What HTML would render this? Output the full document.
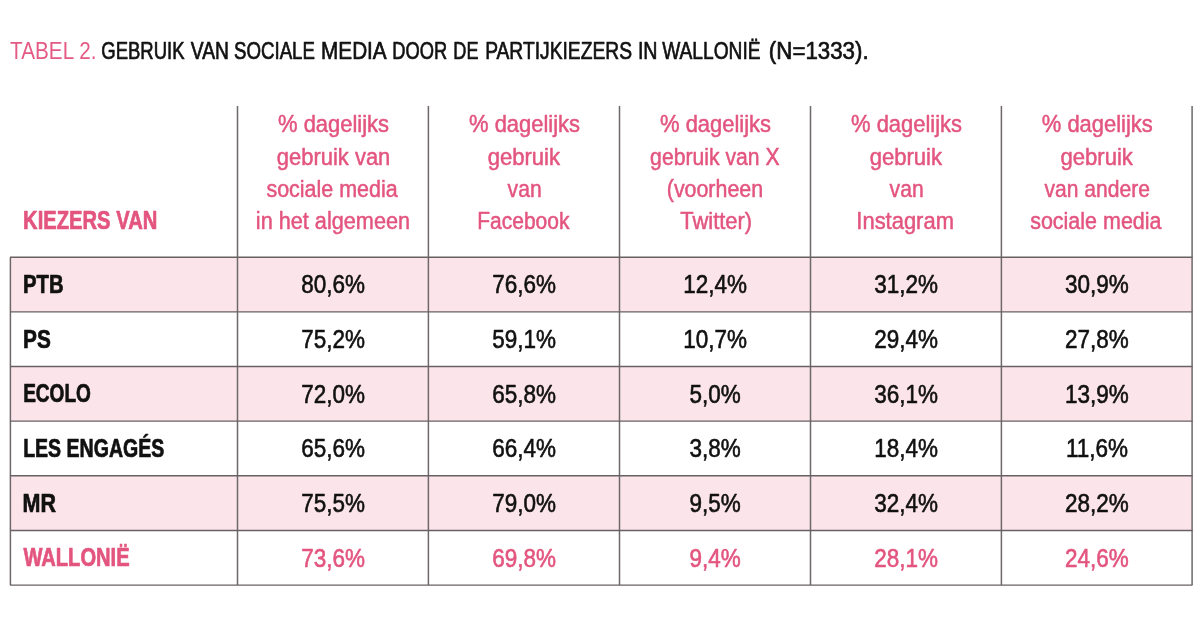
<!DOCTYPE html>
<html lang="nl">
<head>
<meta charset="utf-8">
<title>Tabel 2</title>
<style>
html,body{margin:0;padding:0;background:#fff;}
body{width:1200px;height:637px;overflow:hidden;}
svg{display:block;will-change:transform;font-family:"Liberation Sans",sans-serif;}
text{white-space:pre;stroke-linejoin:round;}
</style>
</head>
<body>
<svg width="1200" height="637" viewBox="0 0 1200 637">
<rect width="1200" height="637" fill="#ffffff"/>
<!-- striped row backgrounds -->
<rect x="10.4" y="257.20" width="1181.70" height="54.65" fill="#fce5ea"/>
<rect x="10.4" y="366.50" width="1181.70" height="54.65" fill="#fce5ea"/>
<rect x="10.4" y="475.80" width="1181.70" height="54.65" fill="#fce5ea"/>
<!-- grid lines -->
<g stroke="#6e686b" stroke-width="1.5" fill="none">
<line x1="10.4" y1="257.20" x2="10.4" y2="585.10"/>
<line x1="237.5" y1="106.0" x2="237.5" y2="585.10"/>
<line x1="428.4" y1="106.0" x2="428.4" y2="585.10"/>
<line x1="619.5" y1="106.0" x2="619.5" y2="585.10"/>
<line x1="810.5" y1="106.0" x2="810.5" y2="585.10"/>
<line x1="1001.4" y1="106.0" x2="1001.4" y2="585.10"/>
<line x1="1192.1" y1="106.0" x2="1192.1" y2="585.10"/>
</g>
<g stroke="#676164" stroke-width="1.4" fill="none">
<line x1="10.00" y1="257.20" x2="1192.50" y2="257.20"/>
<line x1="10.00" y1="311.85" x2="1192.50" y2="311.85"/>
<line x1="10.00" y1="366.50" x2="1192.50" y2="366.50"/>
<line x1="10.00" y1="421.15" x2="1192.50" y2="421.15"/>
<line x1="10.00" y1="475.80" x2="1192.50" y2="475.80"/>
<line x1="10.00" y1="530.45" x2="1192.50" y2="530.45"/>
<line x1="10.00" y1="585.10" x2="1192.50" y2="585.10"/>
</g>
<!-- title -->
<g>
<text transform="translate(10.08,58.60) scale(0.8421,1)" fill="#e45a84" font-weight="400" font-size="24.6">TABEL 2.</text>
<text transform="translate(101.25,58.60) scale(0.7526,1)" fill="#111111" stroke="#111111" stroke-width="0.7" font-weight="400" font-size="24.6">GEBRUIK</text>
<text transform="translate(190.80,58.60) scale(0.7831,1)" fill="#111111" stroke="#111111" stroke-width="0.7" font-weight="400" font-size="24.6">VAN</text>
<text transform="translate(234.03,58.60) scale(0.7591,1)" fill="#111111" stroke="#111111" stroke-width="0.7" font-weight="400" font-size="24.6">SOCIALE</text>
<text transform="translate(321.02,58.60) scale(0.8431,1)" fill="#111111" stroke="#111111" stroke-width="0.7" font-weight="400" font-size="24.6">MEDIA</text>
<text transform="translate(392.30,58.60) scale(0.7439,1)" fill="#111111" stroke="#111111" stroke-width="0.7" font-weight="400" font-size="24.6">DOOR</text>
<text transform="translate(453.31,58.60) scale(0.7370,1)" fill="#111111" stroke="#111111" stroke-width="0.7" font-weight="400" font-size="24.6">DE</text>
<text transform="translate(485.13,58.60) scale(0.7827,1)" fill="#111111" stroke="#111111" stroke-width="0.7" font-weight="400" font-size="24.6">PARTIJKIEZERS</text>
<text transform="translate(637.90,58.60) scale(0.8000,1)" fill="#111111" stroke="#111111" stroke-width="0.7" font-weight="400" font-size="24.6">IN</text>
<text transform="translate(662.19,58.60) scale(0.7793,1)" fill="#111111" stroke="#111111" stroke-width="0.7" font-weight="400" font-size="24.6">WALLONIË</text>
<text transform="translate(768.87,58.60) scale(0.9065,1)" fill="#111111" stroke="#111111" stroke-width="0.7" font-weight="400" font-size="24.6">(N=1333).</text>
</g>
<!-- header -->
<g>
<text transform="translate(23.10,229.20) scale(0.8012,1)" fill="#e3557f" stroke="#e3557f" stroke-width="0.7" font-weight="700" font-size="25.2">KIEZERS VAN</text>
<text transform="translate(278.03,132.30) scale(0.9342,1)" fill="#e3557f" stroke="#e3557f" stroke-width="0.5" font-weight="400" font-size="23.5">% dagelijks</text>
<text transform="translate(276.80,164.60) scale(0.9347,1)" fill="#e3557f" stroke="#e3557f" stroke-width="0.5" font-weight="400" font-size="23.5">gebruik van</text>
<text transform="translate(266.39,196.70) scale(0.9143,1)" fill="#e3557f" stroke="#e3557f" stroke-width="0.5" font-weight="400" font-size="23.5">sociale media</text>
<text transform="translate(255.85,228.90) scale(0.9226,1)" fill="#e3557f" stroke="#e3557f" stroke-width="0.5" font-weight="400" font-size="23.5">in het algemeen</text>
<text transform="translate(469.03,132.30) scale(0.9342,1)" fill="#e3557f" stroke="#e3557f" stroke-width="0.5" font-weight="400" font-size="23.5">% dagelijks</text>
<text transform="translate(487.65,164.60) scale(0.9399,1)" fill="#e3557f" stroke="#e3557f" stroke-width="0.5" font-weight="400" font-size="23.5">gebruik</text>
<text transform="translate(507.62,196.70) scale(0.8980,1)" fill="#e3557f" stroke="#e3557f" stroke-width="0.5" font-weight="400" font-size="23.5">van</text>
<text transform="translate(477.24,228.90) scale(0.8934,1)" fill="#e3557f" stroke="#e3557f" stroke-width="0.5" font-weight="400" font-size="23.5">Facebook</text>
<text transform="translate(660.08,132.30) scale(0.9342,1)" fill="#e3557f" stroke="#e3557f" stroke-width="0.5" font-weight="400" font-size="23.5">% dagelijks</text>
<text transform="translate(650.12,164.60) scale(0.9009,1)" fill="#e3557f" stroke="#e3557f" stroke-width="0.5" font-weight="400" font-size="23.5">gebruik van X</text>
<text transform="translate(666.76,196.70) scale(0.9104,1)" fill="#e3557f" stroke="#e3557f" stroke-width="0.5" font-weight="400" font-size="23.5">(voorheen</text>
<text transform="translate(680.27,228.90) scale(0.9325,1)" fill="#e3557f" stroke="#e3557f" stroke-width="0.5" font-weight="400" font-size="23.5">Twitter)</text>
<text transform="translate(851.03,132.30) scale(0.9342,1)" fill="#e3557f" stroke="#e3557f" stroke-width="0.5" font-weight="400" font-size="23.5">% dagelijks</text>
<text transform="translate(869.65,164.60) scale(0.9399,1)" fill="#e3557f" stroke="#e3557f" stroke-width="0.5" font-weight="400" font-size="23.5">gebruik</text>
<text transform="translate(889.62,196.70) scale(0.8980,1)" fill="#e3557f" stroke="#e3557f" stroke-width="0.5" font-weight="400" font-size="23.5">van</text>
<text transform="translate(856.33,228.90) scale(0.9343,1)" fill="#e3557f" stroke="#e3557f" stroke-width="0.5" font-weight="400" font-size="23.5">Instagram</text>
<text transform="translate(1041.83,132.30) scale(0.9342,1)" fill="#e3557f" stroke="#e3557f" stroke-width="0.5" font-weight="400" font-size="23.5">% dagelijks</text>
<text transform="translate(1060.45,164.60) scale(0.9399,1)" fill="#e3557f" stroke="#e3557f" stroke-width="0.5" font-weight="400" font-size="23.5">gebruik</text>
<text transform="translate(1044.52,196.70) scale(0.8966,1)" fill="#e3557f" stroke="#e3557f" stroke-width="0.5" font-weight="400" font-size="23.5">van andere</text>
<text transform="translate(1030.19,228.90) scale(0.9143,1)" fill="#e3557f" stroke="#e3557f" stroke-width="0.5" font-weight="400" font-size="23.5">sociale media</text>
</g>
<!-- body rows -->
<g>
<text transform="translate(22.99,292.95) scale(0.8041,1)" fill="#111111" stroke="#111111" stroke-width="0.7" font-weight="700" font-size="25.2">PTB</text>
<text transform="translate(301.27,293.35) scale(0.8993,1)" fill="#111111" stroke="#111111" stroke-width="0.6" font-weight="400" font-size="25.0">80,6%</text>
<text transform="translate(492.27,293.35) scale(0.8993,1)" fill="#111111" stroke="#111111" stroke-width="0.6" font-weight="400" font-size="25.0">76,6%</text>
<text transform="translate(683.32,293.35) scale(0.8993,1)" fill="#111111" stroke="#111111" stroke-width="0.6" font-weight="400" font-size="25.0">12,4%</text>
<text transform="translate(874.27,293.35) scale(0.8993,1)" fill="#111111" stroke="#111111" stroke-width="0.6" font-weight="400" font-size="25.0">31,2%</text>
<text transform="translate(1065.07,293.35) scale(0.8993,1)" fill="#111111" stroke="#111111" stroke-width="0.6" font-weight="400" font-size="25.0">30,9%</text>
</g>
<g>
<text transform="translate(23.07,347.60) scale(0.8252,1)" fill="#111111" stroke="#111111" stroke-width="0.7" font-weight="700" font-size="25.2">PS</text>
<text transform="translate(301.27,348.00) scale(0.8993,1)" fill="#111111" stroke="#111111" stroke-width="0.6" font-weight="400" font-size="25.0">75,2%</text>
<text transform="translate(492.27,348.00) scale(0.8993,1)" fill="#111111" stroke="#111111" stroke-width="0.6" font-weight="400" font-size="25.0">59,1%</text>
<text transform="translate(683.32,348.00) scale(0.8993,1)" fill="#111111" stroke="#111111" stroke-width="0.6" font-weight="400" font-size="25.0">10,7%</text>
<text transform="translate(874.27,348.00) scale(0.8993,1)" fill="#111111" stroke="#111111" stroke-width="0.6" font-weight="400" font-size="25.0">29,4%</text>
<text transform="translate(1065.07,348.00) scale(0.8993,1)" fill="#111111" stroke="#111111" stroke-width="0.6" font-weight="400" font-size="25.0">27,8%</text>
</g>
<g>
<text transform="translate(23.15,402.25) scale(0.7566,1)" fill="#111111" stroke="#111111" stroke-width="0.7" font-weight="700" font-size="25.2">ECOLO</text>
<text transform="translate(301.27,402.65) scale(0.8993,1)" fill="#111111" stroke="#111111" stroke-width="0.6" font-weight="400" font-size="25.0">72,0%</text>
<text transform="translate(492.27,402.65) scale(0.8993,1)" fill="#111111" stroke="#111111" stroke-width="0.6" font-weight="400" font-size="25.0">65,8%</text>
<text transform="translate(689.58,402.65) scale(0.8993,1)" fill="#111111" stroke="#111111" stroke-width="0.6" font-weight="400" font-size="25.0">5,0%</text>
<text transform="translate(874.27,402.65) scale(0.8993,1)" fill="#111111" stroke="#111111" stroke-width="0.6" font-weight="400" font-size="25.0">36,1%</text>
<text transform="translate(1065.07,402.65) scale(0.8993,1)" fill="#111111" stroke="#111111" stroke-width="0.6" font-weight="400" font-size="25.0">13,9%</text>
</g>
<g>
<text transform="translate(23.13,456.90) scale(0.7756,1)" fill="#111111" stroke="#111111" stroke-width="0.7" font-weight="700" font-size="25.2">LES ENGAGÉS</text>
<text transform="translate(301.27,457.30) scale(0.8993,1)" fill="#111111" stroke="#111111" stroke-width="0.6" font-weight="400" font-size="25.0">65,6%</text>
<text transform="translate(492.27,457.30) scale(0.8993,1)" fill="#111111" stroke="#111111" stroke-width="0.6" font-weight="400" font-size="25.0">66,4%</text>
<text transform="translate(689.58,457.30) scale(0.8993,1)" fill="#111111" stroke="#111111" stroke-width="0.6" font-weight="400" font-size="25.0">3,8%</text>
<text transform="translate(874.27,457.30) scale(0.8993,1)" fill="#111111" stroke="#111111" stroke-width="0.6" font-weight="400" font-size="25.0">18,4%</text>
<text transform="translate(1065.91,457.30) scale(0.8993,1)" fill="#111111" stroke="#111111" stroke-width="0.6" font-weight="400" font-size="25.0">11,6%</text>
</g>
<g>
<text transform="translate(22.53,511.55) scale(0.8530,1)" fill="#111111" stroke="#111111" stroke-width="0.7" font-weight="700" font-size="25.2">MR</text>
<text transform="translate(301.27,511.95) scale(0.8993,1)" fill="#111111" stroke="#111111" stroke-width="0.6" font-weight="400" font-size="25.0">75,5%</text>
<text transform="translate(492.27,511.95) scale(0.8993,1)" fill="#111111" stroke="#111111" stroke-width="0.6" font-weight="400" font-size="25.0">79,0%</text>
<text transform="translate(689.58,511.95) scale(0.8993,1)" fill="#111111" stroke="#111111" stroke-width="0.6" font-weight="400" font-size="25.0">9,5%</text>
<text transform="translate(874.27,511.95) scale(0.8993,1)" fill="#111111" stroke="#111111" stroke-width="0.6" font-weight="400" font-size="25.0">32,4%</text>
<text transform="translate(1065.07,511.95) scale(0.8993,1)" fill="#111111" stroke="#111111" stroke-width="0.6" font-weight="400" font-size="25.0">28,2%</text>
</g>
<g>
<text transform="translate(23.40,566.20) scale(0.7985,1)" fill="#e3557f" stroke="#e3557f" stroke-width="0.7" font-weight="700" font-size="25.2">WALLONIË</text>
<text transform="translate(301.27,566.60) scale(0.8993,1)" fill="#e3557f" stroke="#e3557f" stroke-width="0.6" font-weight="400" font-size="25.0">73,6%</text>
<text transform="translate(492.27,566.60) scale(0.8993,1)" fill="#e3557f" stroke="#e3557f" stroke-width="0.6" font-weight="400" font-size="25.0">69,8%</text>
<text transform="translate(689.58,566.60) scale(0.8993,1)" fill="#e3557f" stroke="#e3557f" stroke-width="0.6" font-weight="400" font-size="25.0">9,4%</text>
<text transform="translate(874.27,566.60) scale(0.8993,1)" fill="#e3557f" stroke="#e3557f" stroke-width="0.6" font-weight="400" font-size="25.0">28,1%</text>
<text transform="translate(1065.07,566.60) scale(0.8993,1)" fill="#e3557f" stroke="#e3557f" stroke-width="0.6" font-weight="400" font-size="25.0">24,6%</text>
</g>
</svg>
</body>
</html>
